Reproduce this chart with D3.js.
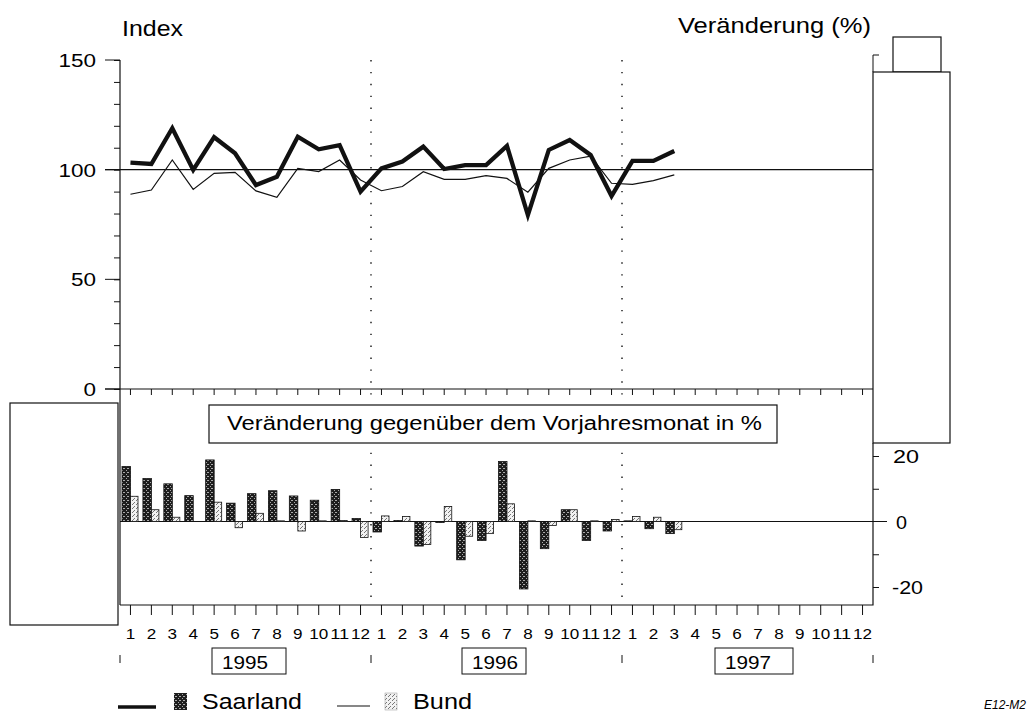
<!DOCTYPE html>
<html><head><meta charset="utf-8">
<script src="https://cdn.jsdelivr.net/npm/d3@7"></script>
<style>body{margin:0;background:#fff}svg{display:block;font-family:"Liberation Sans",Arial,sans-serif}</style>
</head><body><svg id="c" width="1029" height="716"></svg>
<script>
const monthLabels = ["1","2","3","4","5","6","7","8","9","10","11","12"];
const years = ["1995","1996","1997"];
const indexTicks = [0,50,100,150];
const changeTicks = [-20,0,20];
// Index values Jan 1995 - Mar 1997
const saarlandIndex = [103.2,102.6,118.9,99.9,114.8,107.5,93,96.8,115,109.3,111.2,90,
  100.6,103.7,110.5,100.3,102.1,102.1,110.8,79.3,109,113.5,106.7,88,
  104,104,108.5];
const bundIndex = [88.8,90.7,104.4,91,98.3,98.8,90.3,87.4,100.6,99.1,104.4,95.3,
  90.4,92.3,99.1,95.6,95.6,97.3,96,89.7,100.6,104.4,106.2,93.8,
  93.3,95,97.6];
// change vs. same month previous year (%)
const saarlandChange = [16.8,13.1,11.5,7.9,18.8,5.6,8.5,9.4,7.8,6.5,9.8,0.9,
  -3.2,0.3,-7.5,-0.3,-11.7,-5.8,18.3,-20.6,-8.3,3.6,-5.8,-2.9,
  0.2,-2.2,-3.7];
const bundChange = [7.7,3.6,1.3,0,5.9,-1.9,2.5,0.2,-2.9,0.2,0.3,-4.9,
  1.7,1.5,-7,4.6,-4.5,-3.7,5.4,0.2,-1.2,3.6,0.2,0.6,
  1.5,1.3,-2.5];

const svg = d3.select("#c");
const defs = svg.append("defs");
function stipple(id, bg, dot, pts){
  const p = defs.append("pattern").attr("id",id).attr("width",4).attr("height",4).attr("patternUnits","userSpaceOnUse");
  p.append("rect").attr("width",4).attr("height",4).attr("fill",bg);
  pts.forEach(([a,b])=>p.append("rect").attr("x",a).attr("y",b).attr("width",1).attr("height",1).attr("fill",dot));
}
stipple("dark","#1e1e1e","#aaa",[[0,0],[2,2],[3,0]]);
stipple("light","#f2f2f2","#777",[[0,0],[2,2],[1,3]]);

function txt(xx, yy, s, size, width, anchor){
  const t = svg.append("text").attr("x",xx).attr("y",yy).attr("font-size",size).text(s);
  if(anchor) t.attr("text-anchor",anchor);
  if(width) t.attr("textLength",width).attr("lengthAdjust","spacingAndGlyphs");
  return t;
}

const allMonths = d3.range(36);
const x = d3.scaleBand().domain(allMonths).range([120,873]);
const yTop = d3.scaleLinear().domain([0,150]).range([389,60]);
const yBot = d3.scaleLinear().domain([-20,20]).range([587,456]);
const ink = "#111";

// titles
txt(122,36,"Index",22,61);
txt(678,33,"Veränderung (%)",22,193);

// dotted year separators
[12,24].forEach(i=>{
  svg.append("line").attr("x1",x(i)).attr("x2",x(i)).attr("y1",60).attr("y2",605)
    .attr("stroke",ink).attr("stroke-width",1.4).attr("stroke-dasharray","1.4,10.5");
});

// left index axis
const gL = svg.append("g").attr("transform","translate(120,0)");
gL.call(d3.axisLeft(yTop).tickValues(d3.range(0,151,10)).tickSize(6).tickFormat(""));
gL.call(g=>g.select(".domain").remove());
gL.selectAll(".tick line").attr("stroke",ink);
svg.append("line").attr("x1",120).attr("x2",120).attr("y1",60).attr("y2",605).attr("stroke",ink).attr("stroke-width",1.2);
indexTicks.forEach(v=>{
  svg.append("line").attr("x1",105).attr("x2",120).attr("y1",yTop(v)).attr("y2",yTop(v)).attr("stroke",ink);
  const s = String(v);
  txt(96,yTop(v)+7,s,18,s.length*12.5,"end");
});
// reference line at 100
svg.append("line").attr("x1",105).attr("x2",873).attr("y1",yTop(100)).attr("y2",yTop(100)).attr("stroke",ink).attr("stroke-width",1.2);
// zero line of index panel
svg.append("line").attr("x1",105).attr("x2",873).attr("y1",yTop(0)).attr("y2",yTop(0)).attr("stroke",ink).attr("stroke-width",1.2);
allMonths.forEach(i=>{
  const cx = x(i)+x.bandwidth()/2;
  svg.append("line").attr("x1",cx).attr("x2",cx).attr("y1",389).attr("y2",395).attr("stroke",ink);
});

// lines
const line = d3.line().x((d,i)=>x(i)+x.bandwidth()/2).y(d=>yTop(d));
svg.append("path").datum(bundIndex).attr("d",line).attr("fill","none").attr("stroke",ink).attr("stroke-width",1.2);
svg.append("path").datum(saarlandIndex).attr("d",line).attr("fill","none").attr("stroke",ink).attr("stroke-width",4.3).attr("stroke-linejoin","miter");

// right boxes
svg.append("rect").attr("x",893).attr("y",37).attr("width",48).attr("height",35).attr("fill","#fff").attr("stroke",ink).attr("stroke-width",1.2);
svg.append("rect").attr("x",873).attr("y",72).attr("width",77).attr("height",371).attr("fill","#fff").attr("stroke",ink).attr("stroke-width",1.2);
svg.append("path").attr("d","M873,72V55H879").attr("fill","none").attr("stroke",ink);

// left box
svg.append("rect").attr("x",10).attr("y",403).attr("width",108).attr("height",222).attr("fill","#fff").attr("stroke",ink).attr("stroke-width",1.2);

// bottom frame
svg.append("path").attr("d","M120,605H873V443").attr("fill","none").attr("stroke",ink).attr("stroke-width",1.2);
allMonths.forEach(i=>{
  const cx = x(i)+x.bandwidth()/2;
  svg.append("line").attr("x1",cx).attr("x2",cx).attr("y1",605).attr("y2",615).attr("stroke",ink);
  const s = monthLabels[i%12];
  txt(cx,639,s,14,s.length*9.5,"middle");
});

// right change axis
const gR = svg.append("g").attr("transform","translate(873,0)");
gR.call(d3.axisRight(yBot).tickValues([-20,-10,10,20]).tickSize(6).tickFormat(""));
gR.call(g=>g.select(".domain").remove());
gR.selectAll(".tick line").attr("stroke",ink);
changeTicks.forEach(v=>{
  const s = String(v);
  const w = v===0 ? 11 : (v<0 ? 31 : 26);
  txt(v<0?892:(v===0?896:893), yBot(v)+7, s, 19, w);
});
// zero line of change panel
svg.append("line").attr("x1",120).attr("x2",887).attr("y1",yBot(0)).attr("y2",yBot(0)).attr("stroke",ink).attr("stroke-width",1.2);

// bars
const bw = 8.5;
const bars = svg.append("g");
saarlandChange.forEach((v,i)=>{
  bars.append("rect").attr("x",x(i)+2).attr("width",bw)
    .attr("y",Math.min(yBot(v),yBot(0))).attr("height",Math.abs(yBot(v)-yBot(0)))
    .attr("fill","url(#dark)").attr("stroke",ink).attr("stroke-width",0.8);
});
bundChange.forEach((v,i)=>{
  if(v===0) return;
  bars.append("rect").attr("x",x(i)+2+bw).attr("width",bw-1)
    .attr("y",Math.min(yBot(v),yBot(0))).attr("height",Math.abs(yBot(v)-yBot(0)))
    .attr("fill","url(#light)").attr("stroke",ink).attr("stroke-width",0.8);
});

// subtitle box
svg.append("rect").attr("x",209).attr("y",405).attr("width",568).attr("height",38).attr("fill","#fff").attr("stroke",ink).attr("stroke-width",1.2);
txt(227,430,"Veränderung gegenüber dem Vorjahresmonat in %",20,535);

// years
[0,12,24,36].forEach(i=>{
  const xx = i<36 ? x(i) : 873;
  svg.append("line").attr("x1",xx).attr("x2",xx).attr("y1",655).attr("y2",663).attr("stroke",ink);
});
const yearBoxes = [[212,74],[462,64],[715,78]];
years.forEach((yv,k)=>{
  const [bx,bwid] = yearBoxes[k];
  svg.append("rect").attr("x",bx).attr("y",648).attr("width",bwid).attr("height",26).attr("fill","#fff").attr("stroke",ink);
  txt(bx+10,669,yv,19,46);
});

// legend
svg.append("line").attr("x1",118).attr("x2",156).attr("y1",707).attr("y2",707).attr("stroke",ink).attr("stroke-width",3.5);
svg.append("rect").attr("x",174).attr("y",693).attr("width",13).attr("height",17).attr("fill","url(#dark)");
txt(202,709,"Saarland",22,100);
svg.append("line").attr("x1",337).attr("x2",370).attr("y1",706).attr("y2",706).attr("stroke",ink).attr("stroke-width",1.2);
svg.append("rect").attr("x",385).attr("y",693).attr("width",12).attr("height",17).attr("fill","url(#light)").attr("stroke","#999").attr("stroke-width",0.5);
txt(413,709,"Bund",22,59);
svg.append("text").attr("x",984).attr("y",709).attr("font-size",12).attr("font-style","italic").text("E12-M2");
</script></body></html>
